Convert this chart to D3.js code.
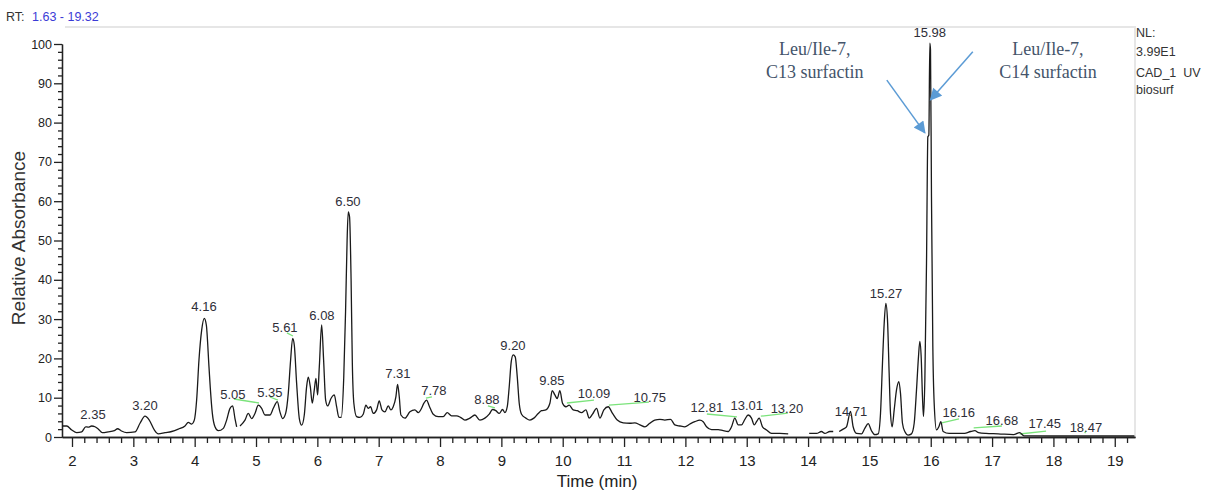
<!DOCTYPE html>
<html>
<head>
<meta charset="utf-8">
<script src="https://cdn.jsdelivr.net/npm/d3@7"></script>
<style>
  body { margin: 0; background: #fff; }
  text { font-family: 'Liberation Sans', Arial, sans-serif; }
</style>
</head>
<body>
<svg id="main"></svg>
<script>
// retention time (min) and relative absorbance, null = gap in trace
let rt = [1.837,1.913,1.995,2.076,2.158,2.223,2.266,2.32,2.375,2.43,2.494,2.592,2.69,2.744,2.799,2.891,3.027,3.109,3.19,3.26,3.342,3.407,3.516,3.625,3.733,3.842,3.896,3.95,3.994,4.032,4.07,4.114,4.157,4.19,4.233,4.255,4.288,4.331,4.385,4.467,4.521,4.576,4.619,4.657,4.684,4.71,
  4.739,4.82,4.874,4.929,4.983,5.037,5.092,5.146,5.227,5.282,5.347,5.39,5.434,5.483,5.526,5.564,5.597,5.624,5.662,5.706,5.744,5.787,5.825,5.852,5.885,5.917,5.95,5.977,6.004,6.032,6.07,6.102,6.135,6.168,6.222,6.276,6.314,6.352,6.39,6.43,6.46,6.485,6.504,6.525,6.55,6.57,6.595,6.64,
  6.694,6.748,6.792,6.83,6.868,6.911,6.966,7.009,7.053,7.101,7.156,7.199,7.237,7.281,7.308,7.335,7.362,7.428,7.509,7.59,7.645,7.699,7.737,7.781,7.824,7.889,7.971,8.052,8.118,8.188,8.27,8.335,8.405,8.487,8.568,8.65,8.731,8.802,8.856,8.91,8.965,9.019,9.058,9.096,9.128,9.161,9.193,9.226,9.259,9.291,9.329,9.4,9.465,9.53,9.601,9.655,9.726,9.791,9.829,9.872,9.91,9.954,9.997,10.052,10.106,10.171,10.236,10.307,10.378,10.432,10.486,10.552,10.606,10.671,10.742,10.812,10.889,10.986,11.095,11.176,
  11.258,11.34,11.42,11.5,11.584,11.665,11.758,11.828,11.91,11.991,12.073,12.154,12.236,12.29,12.345,12.426,12.535,12.616,12.698,12.752,12.806,12.861,12.915,12.97,13.024,13.078,13.122,13.16,13.203,13.257,13.323,13.404,13.54,13.676,13.85,
  14.018,14.138,14.219,14.274,14.355,14.41,14.46,14.507,14.572,14.627,14.692,14.735,14.79,14.871,14.925,14.98,15.034,15.088,15.143,15.181,15.213,15.241,15.268,15.295,15.322,15.344,15.371,15.404,15.442,15.48,15.507,15.539,15.577,15.632,15.686,15.73,15.768,15.8,15.822,15.844,15.865,15.882,15.904,15.931,15.953,15.969,15.985,15.996,16.012,16.034,16.056,16.094,16.132,16.164,16.202,16.3,16.55,16.65,16.72,16.78,16.9,17.1,17.35,17.45,17.52,18.0,18.6,19.32]
let rel = [2.8,2.8,1.8,1.1,1.3,2.6,2.5,2.8,2.6,2.0,1.1,1.3,1.6,2.1,1.6,1.1,1.3,3.5,5.3,4.3,1.8,0.8,1.1,1.4,2.0,2.8,3.7,3.3,4.3,9.4,19.6,27.2,30.2,28.5,17.9,12.4,6.0,2.6,1.6,2.2,4.3,7.3,7.9,4.7,2.6,null,
  2.8,4.3,6.0,4.7,6.0,8.1,7.3,5.6,5.6,7.3,9.0,6.4,4.7,6.0,11.1,19.6,25.1,23.4,13.7,4.7,3.0,5.6,12.8,15.2,12.8,8.6,12.0,14.9,10.7,17.9,28.5,19.6,9.4,7.9,9.8,10.7,7.7,5.0,5.0,15.0,32.0,50.0,57.3,56.0,40.0,19.0,8.6,5.2,
  5.0,5.8,8.1,7.3,7.7,6.0,6.9,9.2,6.9,6.4,7.9,6.9,7.7,10.3,13.4,10.3,5.6,4.8,6.4,6.9,6.2,7.3,8.6,9.4,7.9,5.8,5.2,5.2,6.2,5.4,5.4,5.0,4.3,4.8,5.6,4.3,4.8,5.8,7.0,6.7,6.0,7.0,6.2,7.7,12.8,19.2,20.9,20.4,15.3,8.6,5.8,4.8,4.3,4.8,6.0,6.7,6.9,8.6,11.8,10.7,9.8,11.8,8.6,7.7,8.1,6.9,6.7,6.2,6.9,4.8,5.8,7.3,4.8,6.9,7.7,6.0,4.3,3.6,3.5,3.6,
  3.1,2.6,3.5,4.3,4.5,4.3,4.5,3.1,2.8,2.6,3.3,3.9,4.3,3.9,2.6,1.9,1.9,1.6,1.4,2.6,4.8,3.1,3.1,4.5,5.6,4.8,3.1,3.9,4.8,2.6,1.8,0.9,0.9,0.8,null,
  0.9,0.9,1.4,0.9,1.4,1.4,null,1.4,2.0,2.6,6.5,2.6,0.9,0.8,2.2,3.4,1.6,0.6,0.8,6.0,18.7,28.9,34.0,29.8,16.2,6.0,2.6,6.9,12.0,14.1,11.1,3.5,1.4,0.5,0.8,3.5,12.0,20.4,24.3,20.4,10.3,5.2,14.5,44.2,76.4,76.8,100.2,98.5,61.2,23.0,8.6,1.8,2.6,3.9,1.4,0.9,0.9,1.4,1.6,1.1,0.9,0.8,0.6,1.1,0.3,0.25,0.25,0.25]

// peak labels: text, retention time of label centre, absorbance at label baseline
let peakText = ['2.35','3.20','4.16','5.05','5.35','5.61','6.08','6.50','7.31','7.78','8.88','9.20','9.85','10.09','10.75','12.81','13.01','13.20','14.71','15.27','15.98','16.16','16.68','17.45','18.47']
let peakRt = [2.342,3.19,4.152,4.624,5.227,5.472,6.075,6.499,7.314,7.9,8.765,9.189,9.824,10.509,11.42,12.35,13.0,13.655,14.7,15.27,15.985,16.458,17.16,17.86,18.53]
let peakY = [4.6,6.9,32.1,9.7,10.2,26.8,29.8,58.9,15.0,10.7,8.4,22.1,13.2,9.9,8.9,6.4,6.9,6.1,5.3,35.4,101.8,5.1,3.1,2.3,1.3]

// green integration marks [rt1, abs1, rt2, abs2]
let greenMarks = [
  [4.641,9.67,5.048,8.65],[5.227,10.18,5.358,9.41],[5.504,26.5,5.602,25.7],[7.77,9.9,7.868,10.2],
  [8.781,7.9,8.895,7.4],[10.068,8.65,10.509,9.4],[10.753,8.1,11.405,8.9],[12.35,5.85,12.84,5.1],
  [13.23,5.3,13.67,6.1],[16.18,3.6,16.46,4.6],[16.70,2.3,17.16,2.8],[17.45,0.76,17.88,1.5],[18.51,1.0,18.53,1.5]
]

// annotations
let noteLines = [['Leu/Ile-7,','C13 surfactin'],['Leu/Ile-7,','C14 surfactin']]
let noteRt = [14.11, 17.91]
let noteY = [97.2, 91.3]
let arrows = [[15.284,90.8,15.904,77.4],[16.686,98.0,15.997,85.8]]

let xMajor = d3.range(2, 20)
let xMinor = d3.range(2.2, 19.3, 0.2).filter(d => Math.abs(d - Math.round(d)) > 0.01)
let yMajor = d3.range(0, 101, 10)
let yMinor = d3.range(2, 100, 2).filter(d => d % 10 != 0)

let width = 1213
let height = 491

let svg = d3.select('#main').attr('width', width).attr('height', height)

let xScale = d3.scaleLinear().domain([1.837, 19.33]).range([62, 1135])
let yScale = d3.scaleLinear().domain([0, 100]).range([437, 44])

// light frame
svg.append('path')
  .attr('d', `M65,27 H1135 V437`)
  .attr('fill', 'none').attr('stroke', '#e6e6e6').attr('stroke-width', 2)

// header
let hdr = svg.append('text').attr('x', 6).attr('y', 21).attr('font-size', 12.5)
hdr.append('tspan').attr('fill', '#333').text('RT: ')
hdr.append('tspan').attr('fill', '#3b3bd6').attr('dx', 4).text('1.63 - 19.32')

let side = ['NL:', '3.99E1', 'CAD_1  UV', 'biosurf']
let sideY = [37, 56, 77, 94]
svg.selectAll('.side').data(side).enter().append('text')
  .attr('class', 'side')
  .attr('x', 1136).attr('y', (d, i) => sideY[i])
  .attr('font-size', 12.5).attr('fill', '#333')
  .style('white-space', 'pre')
  .text(d => d)

// axes
const styleAxis = g => {
  g.selectAll('path,line').attr('stroke', '#222').attr('stroke-width', 1.3)
}
let xAxis = svg.append('g').attr('transform', 'translate(0,437)')
  .call(d3.axisBottom(xScale).tickValues(xMajor).tickSize(10).tickSizeOuter(0).tickPadding(8).tickFormat(d3.format('d')))
xAxis.selectAll('text').attr('font-size', 15).attr('fill', '#222')
  .style('font-family', "'Liberation Sans Narrow','Arial Narrow','Liberation Sans',Arial,sans-serif")
styleAxis(xAxis)
let xAxisMinor = svg.append('g').attr('transform', 'translate(0,437)')
  .call(d3.axisBottom(xScale).tickValues(xMinor).tickSize(6).tickSizeOuter(0).tickFormat(''))
styleAxis(xAxisMinor)

let yAxis = svg.append('g').attr('transform', 'translate(62,0)')
  .call(d3.axisLeft(yScale).tickValues(yMajor).tickSize(8).tickSizeOuter(0).tickPadding(2))
yAxis.selectAll('text').attr('font-size', 12.5).attr('fill', '#222')
styleAxis(yAxis)
let yAxisMinor = svg.append('g').attr('transform', 'translate(62,0)')
  .call(d3.axisLeft(yScale).tickValues(yMinor).tickSize(4).tickSizeOuter(0).tickFormat(''))
styleAxis(yAxisMinor)

svg.append('text').attr('x', 597).attr('y', 487).attr('text-anchor', 'middle')
  .attr('font-size', 17).attr('fill', '#222').text('Time (min)')
svg.append('text').attr('transform', 'translate(25,238) rotate(-90)').attr('text-anchor', 'middle')
  .attr('font-size', 19).attr('fill', '#333').text('Relative Absorbance')

// green marks
svg.selectAll('.gm').data(greenMarks).enter().append('line')
  .attr('class', 'gm')
  .attr('x1', d => xScale(d[0])).attr('y1', d => yScale(d[1]))
  .attr('x2', d => xScale(d[2])).attr('y2', d => yScale(d[3]))
  .attr('stroke', '#7be37b').attr('stroke-width', 1.3)

// trace
let pts = rt.map((t, i) => [t, rel[i]])
let line = d3.line()
  .defined(d => d[1] != null)
  .x(d => xScale(d[0]))
  .y(d => yScale(d[1]))
  .curve(d3.curveMonotoneX)
svg.append('path').datum(pts)
  .attr('d', line)
  .attr('fill', 'none').attr('stroke', '#1a1a1a').attr('stroke-width', 1.3)

// peak labels
svg.selectAll('.pk').data(peakText).enter().append('text')
  .attr('class', 'pk')
  .attr('x', (d, i) => xScale(peakRt[i]))
  .attr('y', (d, i) => yScale(peakY[i]))
  .attr('text-anchor', 'middle')
  .attr('font-size', 13).attr('fill', '#2e2e38')
  .text(d => d)

// annotations
noteLines.forEach((lines, i) => {
  lines.forEach((s, j) => {
    svg.append('text')
      .attr('x', xScale(noteRt[i]))
      .attr('y', yScale(noteY[j]))
      .attr('text-anchor', 'middle')
      .attr('font-size', 18)
      .attr('fill', '#44546a')
      .style('font-family', "'Liberation Serif','Times New Roman',serif")
      .text(s)
  })
})

let defs = svg.append('defs')
defs.append('marker').attr('id', 'head')
  .attr('viewBox', '0 0 10 10').attr('refX', 9).attr('refY', 5)
  .attr('markerWidth', 9).attr('markerHeight', 8).attr('markerUnits', 'userSpaceOnUse')
  .attr('orient', 'auto')
  .append('path').attr('d', 'M0,0 L10,5 L0,10 z').attr('fill', '#5b9bd5')
defs.select('marker').attr('markerWidth', 14).attr('markerHeight', 12)

svg.selectAll('.arr').data(arrows).enter().append('line')
  .attr('class', 'arr')
  .attr('x1', d => xScale(d[0])).attr('y1', d => yScale(d[1]))
  .attr('x2', d => xScale(d[2])).attr('y2', d => yScale(d[3]))
  .attr('stroke', '#5b9bd5').attr('stroke-width', 1.5)
  .attr('marker-end', 'url(#head)')
</script>
</body>
</html>
